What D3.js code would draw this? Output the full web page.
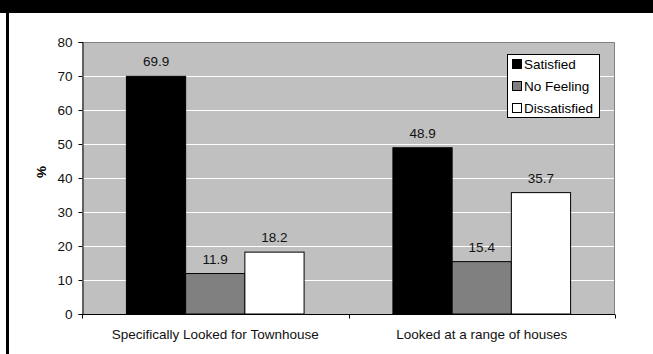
<!DOCTYPE html>
<html>
<head>
<meta charset="utf-8">
<script src="https://cdn.jsdelivr.net/npm/d3@7"></script>
<style>
    body { margin: 0; background: white; }
    svg { display: block; font-family: "Liberation Sans", Arial, sans-serif; }
</style>
</head>
<body>
<div id="chart"></div>
<script>
// chart data
const categories = ["Specifically Looked for Townhouse", "Looked at a range of houses"];
const series = ["Satisfied", "No Feeling", "Dissatisfied"];
const seriesColors = ["#000000", "#808080", "#ffffff"];
const satisfied = [69.9, 48.9];
const noFeeling = [11.9, 15.4];
const dissatisfied = [18.2, 35.7];
const yTicks = [0, 10, 20, 30, 40, 50, 60, 70, 80];

function drawChart() {
    const width = 653;
    const height = 354;
    const plot = {left: 82, right: 615, top: 42, bottom: 314};
    const fontSize = "13.5px";

    const values = [satisfied, noFeeling, dissatisfied];

    const svg = d3.select("#chart")
        .append("svg")
        .attr("width", width)
        .attr("height", height);

    // frame: black band at top and line at left
    svg.append("rect").attr("x", 0).attr("y", 0).attr("width", width).attr("height", 13).attr("fill", "black");
    svg.append("rect").attr("x", 6).attr("y", 0).attr("width", 3).attr("height", height).attr("fill", "black");

    const x0 = d3.scaleBand()
        .domain(categories)
        .range([plot.left, plot.right]);

    // Excel gap width 150%: band = 4.5 bar widths
    const barW = x0.bandwidth() / 4.5;
    const x1 = d3.scaleBand()
        .domain(series)
        .range([0.75 * barW, 3.75 * barW]);

    const y = d3.scaleLinear()
        .domain([0, 80])
        .range([plot.bottom, plot.top]);

    // plot area
    svg.append("rect")
        .attr("x", plot.left)
        .attr("y", plot.top)
        .attr("width", plot.right - plot.left)
        .attr("height", plot.bottom - plot.top)
        .attr("fill", "#c0c0c0")
        .attr("stroke", "none");

    // gridlines
    svg.append("g")
        .selectAll("line")
        .data(yTicks.filter(d => d > 0 && d < 80))
        .join("line")
        .attr("x1", plot.left)
        .attr("x2", plot.right)
        .attr("y1", d => Math.round(y(d)) + 0.5)
        .attr("y2", d => Math.round(y(d)) + 0.5)
        .attr("stroke", "white")
        .attr("stroke-width", 1);

    // top and right border
    svg.append("path")
        .attr("d", `M${plot.left},${plot.top + 0.5}H${plot.right - 0.5}V${plot.bottom}`)
        .attr("fill", "none")
        .attr("stroke", "#808080");

    // bars
    const groups = svg.append("g")
        .selectAll("g")
        .data(categories)
        .join("g")
        .attr("transform", d => `translate(${x0(d)},0)`);

    groups.selectAll("rect")
        .data((c, ci) => series.map((s, si) => ({s: s, si: si, v: values[si][ci]})))
        .join("rect")
        .attr("x", d => x1(d.s))
        .attr("y", d => y(d.v))
        .attr("width", x1.bandwidth())
        .attr("height", d => plot.bottom - y(d.v))
        .attr("fill", d => seriesColors[d.si])
        .attr("stroke", "black")
        .attr("stroke-width", 1);

    groups.selectAll("text")
        .data((c, ci) => series.map((s, si) => ({s: s, si: si, v: values[si][ci]})))
        .join("text")
        .attr("x", d => x1(d.s) + x1.bandwidth() / 2)
        .attr("y", d => y(d.v) - 10)
        .attr("text-anchor", "middle")
        .style("font-size", fontSize)
        .attr("fill", "#111")
        .text(d => d.v.toFixed(1));

    // y axis
    const yAxis = svg.append("g")
        .attr("transform", `translate(${plot.left + 0.5},0)`)
        .call(d3.axisLeft(y).tickValues(yTicks).tickSize(4).tickPadding(6));
    yAxis.selectAll("text").style("font-size", fontSize).attr("fill", "#111");
    yAxis.select(".domain").attr("stroke", "black");

    // x axis with ticks between categories
    const xAxis = svg.append("g")
        .attr("transform", `translate(0,${plot.bottom + 0.5})`);
    xAxis.append("line")
        .attr("x1", plot.left)
        .attr("x2", plot.right)
        .attr("stroke", "black");
    const bounds = categories.map(c => x0(c)).concat([plot.right]);
    xAxis.selectAll(".tk")
        .data(bounds)
        .join("line")
        .attr("class", "tk")
        .attr("x1", d => Math.round(d) + 0.5)
        .attr("x2", d => Math.round(d) + 0.5)
        .attr("y1", 0)
        .attr("y2", 4)
        .attr("stroke", "black");
    xAxis.selectAll("text")
        .data(categories)
        .join("text")
        .attr("x", d => x0(d) + x0.bandwidth() / 2)
        .attr("y", 24)
        .attr("text-anchor", "middle")
        .style("font-size", fontSize)
        .attr("fill", "#111")
        .text(d => d);

    // y label
    svg.append("text")
        .attr("transform", "translate(46,172) rotate(-90)")
        .attr("text-anchor", "middle")
        .style("font-size", fontSize)
        .style("font-weight", "bold")
        .text("%");

    // legend
    const legend = svg.append("g").attr("transform", "translate(507,54)");
    legend.append("rect")
        .attr("x", 0.5).attr("y", 0.5)
        .attr("width", 92).attr("height", 63)
        .attr("fill", "white")
        .attr("stroke", "black");
    const items = legend.selectAll("g")
        .data(series)
        .join("g")
        .attr("transform", (d, i) => `translate(5,${10 + i * 22})`);
    items.append("rect")
        .attr("x", 0.5).attr("y", -4.5)
        .attr("width", 9).attr("height", 9)
        .attr("fill", (d, i) => seriesColors[i])
        .attr("stroke", "black");
    items.append("text")
        .attr("x", 12)
        .attr("y", 5)
        .style("font-size", fontSize)
        .text(d => d);
}

drawChart();
</script>
</body>
</html>
